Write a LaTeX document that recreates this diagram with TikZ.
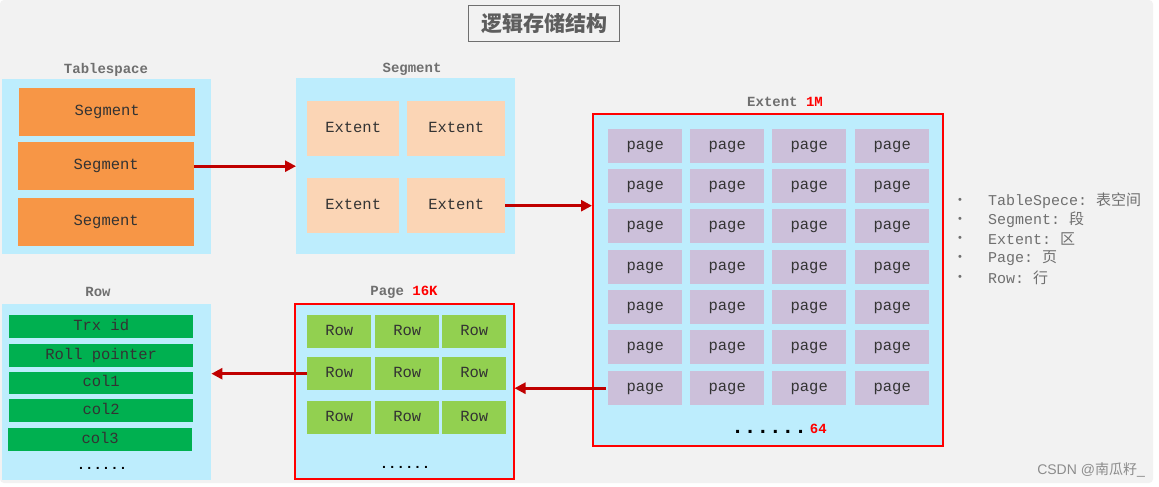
\documentclass[tikz,border=0pt]{standalone}
\usepackage{fontspec}
\setmainfont{Liberation Sans}
\setmonofont{Liberation Mono}
\newfontfamily\cjk{Noto Sans CJK SC}
\usetikzlibrary{arrows.meta}
\definecolor{bg}{HTML}{F2F2F2}
\definecolor{lblue}{HTML}{BDEDFD}
\definecolor{orng}{HTML}{F79646}
\definecolor{peach}{HTML}{FBD5B5}
\definecolor{lav}{HTML}{CCC0DA}
\definecolor{lgreen}{HTML}{92D050}
\definecolor{dgreen}{HTML}{00B050}
\definecolor{arr}{HTML}{C00000}
\definecolor{lblgray}{HTML}{6F6F6F}
\definecolor{txt}{HTML}{333333}
\begin{document}
\begin{tikzpicture}[x=1pt,y=-1pt,
  cont/.style={fill=lblue,draw=none,inner sep=0pt,anchor=north west},
  redcont/.style={cont,draw=red,line width=1.5pt},
  cell/.style={inner sep=0pt,anchor=north west,text=txt,text height=0.75em,text depth=0pt,
    font=\ttfamily\fontsize{15.5}{16}\selectfont},
  segbox/.style={cell,fill=orng,minimum width=176pt,minimum height=48pt},
  extbox/.style={cell,fill=peach,minimum width=92pt,minimum height=55pt},
  pagebox/.style={cell,fill=lav,minimum width=74pt,minimum height=34pt},
  rowbox/.style={cell,fill=lgreen,minimum width=64pt,minimum height=33pt},
  fieldbox/.style={cell,fill=dgreen,minimum width=184pt,minimum height=23pt},
  lbl/.style={inner sep=0pt,text=lblgray,font=\ttfamily\bfseries\fontsize{14}{14}\selectfont},
  conn/.style={draw=arr,line width=2.6pt,-{Triangle[length=11pt,width=11pt]}},
  legend/.style={inner sep=0pt,anchor=west,text=lblgray,font=\ttfamily\fontsize{15}{15}\selectfont},
  bul/.style={inner sep=0pt,text=lblgray,font=\fontsize{11}{11}\selectfont},
  dots/.style={inner sep=0pt,text=black,font=\ttfamily\bfseries\fontsize{14}{14}\selectfont}
]
% background
\useasboundingbox (0,0) rectangle (1159,487);
\fill[white] (0,0) rectangle (1159,487);
\fill[bg,rounded corners=4pt] (0,0) rectangle (1153,483);

% title
\node[draw=lblgray,line width=1.3pt,fill=bg,minimum width=151pt,minimum height=36pt,inner sep=0pt,
  text=lblgray!85!black,font=\cjk\bfseries\fontsize{21}{21}\selectfont] (title) at (544,23.5) {逻辑存储结构};

% Tablespace
\node[lbl] (tslbl) at (106,70) {Tablespace};
\node[cont,minimum width=209pt,minimum height=175pt] (ts) at (2,79) {};
\node[segbox] (s1) at (19,88) {Segment};
\node[segbox] (s2) at (18,142) {Segment};
\node[segbox] (s3) at (18,198) {Segment};

% Segment
\node[lbl] (seglbl) at (412,69) {Segment};
\node[cont,minimum width=219pt,minimum height=176pt] (seg) at (296,78) {};
\node[extbox] (e1) at (307,101) {Extent};
\node[extbox,minimum width=98pt] (e2) at (407,101) {Extent};
\node[extbox] (e3) at (307,178) {Extent};
\node[extbox,minimum width=98pt] (e4) at (407,178) {Extent};

% Extent
\node[lbl] (extlbl) at (785,102) {Extent \textcolor{red}{1M}};
\node[redcont,minimum width=350pt,minimum height=332pt] (ext) at (592,113) {};
\foreach \c/\x in {1/608,2/690,3/772,4/855}
  \foreach \r/\y in {1/129,2/169,3/209,4/250,5/290,6/330,7/371}
    \node[pagebox] (p\r\c) at (\x,\y) {page};
\node[inner sep=0pt,font=\ttfamily\bfseries\fontsize{14}{14}\selectfont] (extdots) at (779,429)
  {\fontsize{21}{14}\selectfont......\hspace{3pt}\textcolor{red}{\fontsize{14}{14}\selectfont 64}};

% Page
\node[lbl] (pglbl) at (404,292) {Page \textcolor{red}{16K}};
\node[redcont,minimum width=219pt,minimum height=175pt] (pg) at (294,303) {};
\foreach \c/\x in {1/307,2/375,3/442}
  \foreach \r/\y in {1/315,2/357,3/401}
    \node[rowbox] (r\r\c) at (\x,\y) {Row};
\node[dots] (pgdots) at (405,467) {......};

% Row
\node[lbl] (rowlbl) at (98,292) {Row};
\node[cont,minimum width=209pt,minimum height=176pt] (row) at (2,304) {};
\node[fieldbox] (f1) at (9,315) {Trx id};
\node[fieldbox] (f2) at (9,344) {Roll pointer};
\node[fieldbox,minimum height=22pt] (f3) at (9,372) {col1};
\node[fieldbox] (f4) at (9,399) {col2};
\node[fieldbox] (f5) at (8,428) {col3};
\node[dots] (rowdots) at (102,468) {......};

% connectors
\draw[conn] (s2.east) -- (s2.east -| seg.west);
\draw[conn] (e4.east) -- (e4.east -| ext.west);
\draw[conn] ([xshift=-2pt]p71.west) -- (p71.west -| pg.east);
\draw[conn] (r21.west) -- (r21.west -| row.east);

% legend
\foreach \i/\y/\t in {1/200.5/{TableSpece: {\cjk 表空间}},2/219.8/{Segment: {\cjk 段}},3/239/{Extent: {\cjk 区}},4/258.3/{Page: {\cjk 页}},5/277.6/{Row: {\cjk 行}}}{
  \node[bul] (b\i) at (960,\y) {•};
  \node[legend] (l\i) at (988,\y) {\t};
}

% watermark
\node[inner sep=0pt,anchor=east,text=black!45,font=\fontsize{14}{14}\selectfont] (wm) at (1145,470) {CSDN @{\cjk 南瓜籽}\_};
\end{tikzpicture}
\end{document}
